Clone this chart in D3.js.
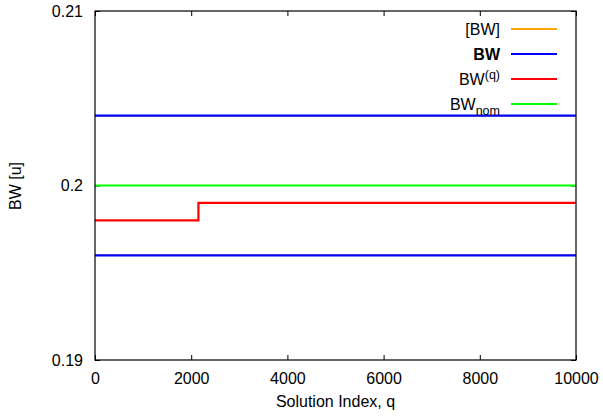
<!DOCTYPE html>
<html>
<head>
<meta charset="utf-8">
<script src="https://cdn.jsdelivr.net/npm/d3@7"></script>
<style>
  html, body { margin: 0; padding: 0; background: #fff; }
  svg text { font-family: "Liberation Sans", Arial, Helvetica, sans-serif; fill: #000; }
</style>
</head>
<body>
<svg id="chart" width="603" height="419"></svg>
<script>
// Solution index domain and tick labels
const xTicks = [0, 2000, 4000, 6000, 8000, 10000];
const yTicks = [0.19, 0.2, 0.21];

// Interval bounds [BW] (lower, upper), drawn underneath BW
const intervalX = [0, 10000];
const intervalLower = [0.196, 0.196];
const intervalUpper = [0.204, 0.204];

// Bounds BW
const boundX = [0, 10000];
const boundLower = [0.196, 0.196];
const boundUpper = [0.204, 0.204];

// Per-solution value BW^(q): step change near q = 2150
const qX = [0, 2150, 2150, 10000];
const qY = [0.198, 0.198, 0.199, 0.199];

// Nominal value BW_nom
const nomX = [0, 10000];
const nomY = [0.2, 0.2];

const colors = { interval: "#ffa500", bound: "#0000ff", q: "#ff0000", nom: "#00ff00" };

const svg = d3.select("#chart");
const plotLeft = 95, plotRight = 576, plotTop = 11, plotBottom = 360;

const x = d3.scaleLinear().domain([0, 10000]).range([plotLeft, plotRight]);
const y = d3.scaleLinear().domain([0.19, 0.21]).range([plotBottom, plotTop]);

const line = d3.line().x(d => x(d[0])).y(d => y(d[1]));
const zipXY = (xs, ys) => xs.map((v, i) => [v, ys[i]]);

const tickLen = 5;
const fontSize = 16;

// Axes with inward ticks, mirrored on the opposite sides
const axisBottom = d3.axisBottom(x).tickValues(xTicks).tickSize(-tickLen).tickPadding(tickLen + 8).tickFormat(d3.format("d"));
const axisTop = d3.axisTop(x).tickValues(xTicks).tickSize(-tickLen).tickFormat("");
const axisLeft = d3.axisLeft(y).tickValues(yTicks).tickSize(-tickLen).tickPadding(tickLen + 7).tickFormat(d => String(+d.toFixed(2)));
const axisRight = d3.axisRight(y).tickValues(yTicks).tickSize(-tickLen).tickFormat("");

function styleAxis(g) {
  g.select(".domain").remove();
  g.selectAll(".tick line").attr("stroke", "#000").attr("stroke-width", 1);
  g.selectAll(".tick text").attr("font-size", fontSize).attr("font-family", null).attr("fill", "#000");
}

svg.append("g").attr("transform", `translate(0,${plotBottom})`).call(axisBottom).call(styleAxis);
svg.append("g").attr("transform", `translate(0,${plotTop})`).call(axisTop).call(styleAxis);
svg.append("g").attr("transform", `translate(${plotLeft},0)`).call(axisLeft).call(styleAxis);
svg.append("g").attr("transform", `translate(${plotRight},0)`).call(axisRight).call(styleAxis);

// Data lines
const plot = svg.append("g");
const series = [
  { pts: zipXY(intervalX, intervalLower), c: colors.interval, w: 1.4 },
  { pts: zipXY(intervalX, intervalUpper), c: colors.interval, w: 1.4 },
  { pts: zipXY(boundX, boundLower), c: colors.bound, w: 2.2 },
  { pts: zipXY(boundX, boundUpper), c: colors.bound, w: 2.2 },
  { pts: zipXY(nomX, nomY), c: colors.nom, w: 2.2 },
  { pts: zipXY(qX, qY), c: colors.q, w: 2.2 }
];
series.forEach(s => {
  plot.append("path").attr("d", line(s.pts)).attr("fill", "none")
    .attr("stroke", s.c).attr("stroke-width", s.w);
});

// Plot frame
svg.append("rect")
  .attr("x", plotLeft).attr("y", plotTop)
  .attr("width", plotRight - plotLeft).attr("height", plotBottom - plotTop)
  .attr("fill", "none").attr("stroke", "#000").attr("stroke-width", 1.2);

// Axis titles
svg.append("text")
  .attr("x", (plotLeft + plotRight) / 2).attr("y", 407)
  .attr("text-anchor", "middle").attr("font-size", fontSize)
  .text("Solution Index, q");

svg.append("text")
  .attr("transform", `translate(21,186) rotate(-90)`)
  .attr("text-anchor", "middle").attr("font-size", fontSize)
  .text("BW [u]");

// Legend
const legend = svg.append("g");
const legendRows = [
  { c: colors.interval, build: t => t.text("[BW]") },
  { c: colors.bound, build: t => t.attr("font-weight", "bold").text("BW") },
  { c: colors.q, build: t => { t.append("tspan").text("BW"); t.append("tspan").attr("dy", -6).attr("font-size", 12.5).text("(q)"); } },
  { c: colors.nom, build: t => { t.append("tspan").text("BW"); t.append("tspan").attr("dy", 5).attr("font-size", 12.5).text("nom"); } }
];
legendRows.forEach((r, i) => {
  const yy = 29 + i * 25;
  legend.append("line").attr("x1", 511).attr("x2", 557).attr("y1", yy).attr("y2", yy)
    .attr("stroke", r.c).attr("stroke-width", 2.2);
  const t = legend.append("text").attr("x", 500).attr("y", yy + 5.5)
    .attr("text-anchor", "end").attr("font-size", fontSize);
  r.build(t);
});
</script>
</body>
</html>
